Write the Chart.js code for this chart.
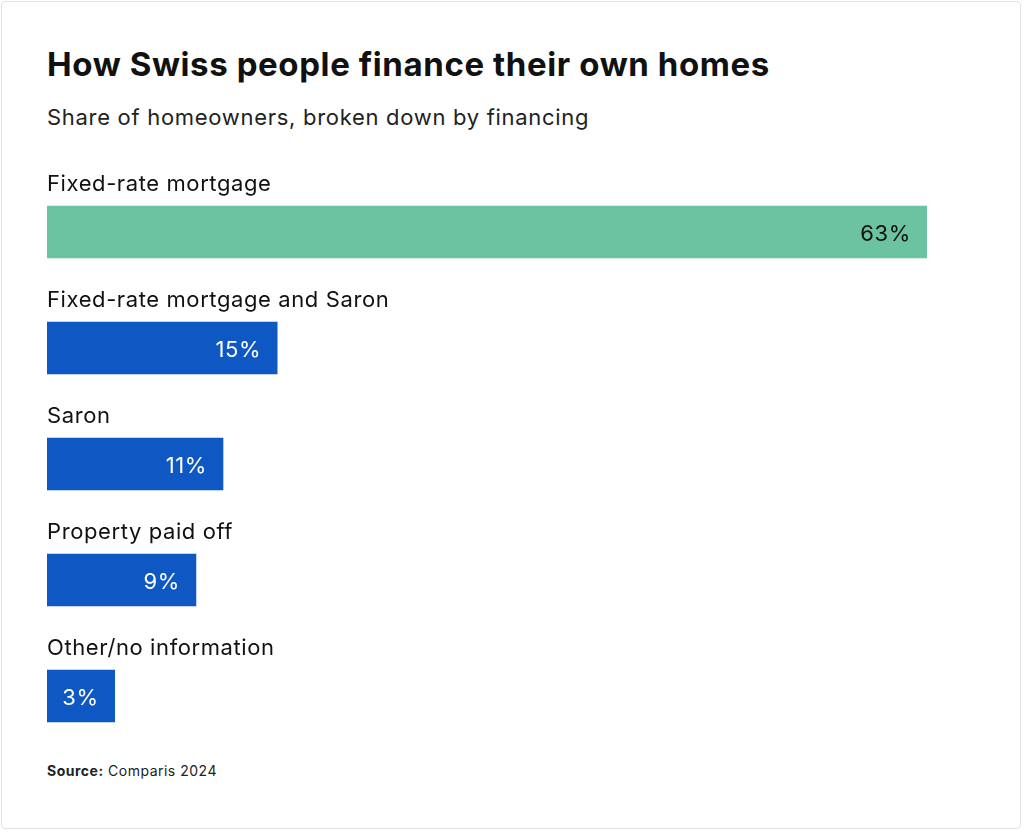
<!DOCTYPE html>
<html>
<head>
<meta charset="utf-8">
<script src="https://cdn.jsdelivr.net/npm/chart.js@4"></script>
<style>
  body { margin:0; background:#fff; font-family: Inter, "Noto Sans", sans-serif; color:#111; }
  .card { position:absolute; left:1px; top:1px; width:1020px; height:828px; border:1px solid #e2e2e2; border-radius:4px; box-sizing:border-box; }
  h1 { position:absolute; left:47px; top:44px; margin:0; font-size:33px; font-weight:700; letter-spacing:0.6px; }
  .sub { position:absolute; left:47px; top:104px; font-size:22px; letter-spacing:0.7px; color:#222; }
  .wrap { position:absolute; left:47px; top:174px; width:880px; height:580px; }
  .src { position:absolute; left:47px; top:762px; font-size:14px; letter-spacing:0.5px; color:#222; }
</style>
</head>
<body>
<div class="card"></div>
<h1>How Swiss people finance their own homes</h1>
<div class="sub">Share of homeowners, broken down by financing</div>
<div class="wrap"><canvas id="c"></canvas></div>
<div class="src"><b>Source:</b> Comparis 2024</div>
<script>
// ---------------- Data ----------------
const categories = ["Fixed-rate mortgage","Fixed-rate mortgage and Saron","Saron","Property paid off","Other/no information"];
const shares = [63, 15, 11, 9, 3];
const barColors = ["#6cc39f","#0f57c2","#0f57c2","#0f57c2","#0f57c2"];
const labelColors = ["#111","#fff","#fff","#fff","#fff"];

// ---------------- Labels plugin ----------------
const labels = {
  id:"labels",
  afterDatasetsDraw(chart){
    const ctx = chart.ctx;
    const meta = chart.getDatasetMeta(0);
    ctx.save();
    meta.data.forEach((bar,i)=>{
      ctx.font = "22px Inter, 'Noto Sans', sans-serif";
      ctx.letterSpacing = "0.6px";
      ctx.textBaseline = "middle";
      ctx.textAlign = "left";
      ctx.fillStyle = "#111";
      ctx.fillText(categories[i], chart.chartArea.left, bar.y - 48);
      ctx.textAlign = "right";
      ctx.fillStyle = labelColors[i];
      ctx.fillText(shares[i] + "%", bar.x - 16, bar.y + 2);
    });
    ctx.restore();
  }
};

new Chart(document.getElementById("c"),{
  type:"bar",
  data:{
    labels:categories,
    datasets:[{ data:shares, backgroundColor:barColors, base:-2, barThickness:52 }]
  },
  options:{
    indexAxis:"y",
    responsive:true,
    maintainAspectRatio:false,
    animation:false,
    layout:{ padding:0 },
    plugins:{ legend:{display:false}, tooltip:{enabled:false} },
    scales:{
      x:{ display:false, min:-2, max:63 },
      y:{ display:false }
    }
  },
  plugins:[labels]
});
</script>
</body>
</html>
